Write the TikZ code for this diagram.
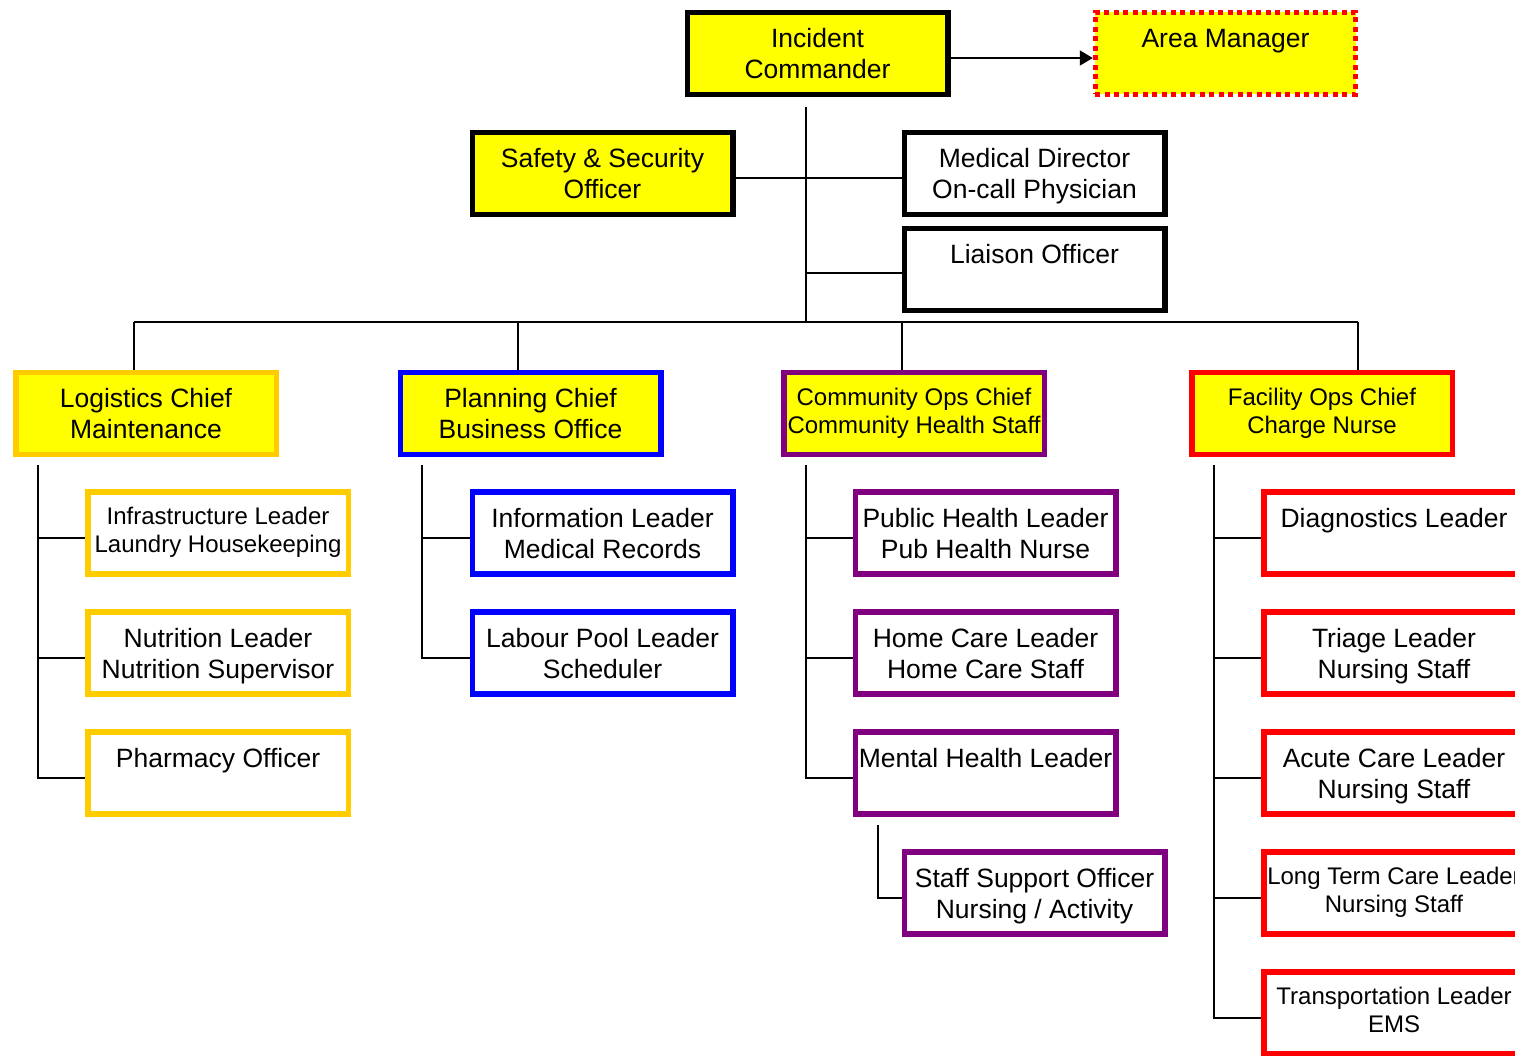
\documentclass[tikz,border=0pt]{standalone}
\usepackage{fontspec}
\setmainfont{Liberation Sans}
\usetikzlibrary{arrows.meta}
\definecolor{boxyellow}{HTML}{FFFF00}
\definecolor{goldbox}{HTML}{FFCC00}
\definecolor{bluebox}{HTML}{0000FF}
\definecolor{purplebox}{HTML}{800080}
\definecolor{redbox}{HTML}{FF0000}
\newcommand\bigf{\fontsize{26.5}{31}\selectfont}
\newcommand\smallf{\fontsize{24}{28}\selectfont}
\begin{document}
\begin{tikzpicture}[x=1pt,y=-1pt,
  box/.style={draw, line width=5.5pt, minimum width=260.5pt, minimum height=82pt,
    inner sep=0pt, align=center, font=\bigf, text depth=0pt},
  small/.style={font=\smallf, text depth=5.5pt},
  chief/.style={box, fill=boxyellow},
  conn/.style={draw=black, line width=2pt}]
\useasboundingbox (0,0) rectangle (1515,1056);
\clip (0,0) rectangle (1515,1056);
\fill[white] (0,0) rectangle (1515,1056);

% top level
\node[chief] (ic) at (817.5,53.5) {Incident\\Commander};
\node[chief, draw=redbox, line width=5pt, dash pattern=on 5pt off 4.5pt] (am) at (1225.5,53.5) {Area Manager\\\mbox{}};
\node[chief] (sso) at (602.5,173.5) {Safety \& Security\\Officer};
\node[box, fill=white] (md) at (1034.5,173.5) {Medical Director\\On-call Physician};
\node[box, fill=white] (lo) at (1034.5,269.5) {Liaison Officer\\\mbox{}};

% chiefs
\node[chief, draw=goldbox] (log) at (146,413.5) {Logistics Chief\\Maintenance};
\node[chief, draw=bluebox] (pla) at (530.5,413.5) {Planning Chief\\Business Office};
\node[chief, draw=purplebox, small] (com) at (914,413.5) {Community Ops Chief\\Community Health Staff};
\node[chief, draw=redbox, small] (fac) at (1322,413.5) {Facility Ops Chief\\Charge Nurse};

% logistics children
\node[box, draw=goldbox, small] (inf) at (218,533) {Infrastructure Leader\\Laundry Housekeeping};
\node[box, draw=goldbox] (nut) at (218,653) {Nutrition Leader\\Nutrition Supervisor};
\node[box, draw=goldbox] (pha) at (218,773) {Pharmacy Officer\\\mbox{}};

% planning children
\node[box, draw=bluebox] (inl) at (602.5,533) {Information Leader\\Medical Records};
\node[box, draw=bluebox] (lab) at (602.5,653) {Labour Pool Leader\\Scheduler};

% community children
\node[box, draw=purplebox] (pub) at (985.5,533) {Public Health Leader\\Pub Health Nurse};
\node[box, draw=purplebox] (hom) at (985.5,653) {Home Care Leader\\Home Care Staff};
\node[box, draw=purplebox] (men) at (985.5,773) {Mental Health Leader\\\mbox{}};
\node[box, draw=purplebox] (ssu) at (1034.5,893) {Staff Support Officer\\Nursing / Activity};

% facility children
\node[box, draw=redbox] (dia) at (1394,533) {Diagnostics Leader\\\mbox{}};
\node[box, draw=redbox] (tri) at (1394,653) {Triage Leader\\Nursing Staff};
\node[box, draw=redbox] (acu) at (1394,773) {Acute Care Leader\\Nursing Staff};
\node[box, draw=redbox, small] (ltc) at (1394,893) {Long Term Care Leader\\Nursing Staff};
\node[box, draw=redbox, small] (tra) at (1394,1013) {Transportation Leader\\EMS};

% coordinates
\coordinate (ictop) at (806,107);
\coordinate (busL) at (134,322);
\coordinate (busP) at (518,322);
\coordinate (busC) at (902,322);
\coordinate (busR) at (1358,322);
\coordinate (logtrunk) at (38,465);
\coordinate (platrunk) at (422,465);
\coordinate (comtrunk) at (806,465);
\coordinate (mentrunk) at (878,825);
\coordinate (factrunk) at (1214,465);

% top connectors
\draw[conn, -{Triangle[length=13pt,width=15pt]}] ([yshift=-4.5pt]ic.east) -- ([yshift=-4.5pt]am.west);
\draw[conn] (ictop) -- (ictop |- busL);
\draw[conn] ([yshift=-4.5pt]sso.east) -- ([yshift=-4.5pt]md.west);
\draw[conn] ([yshift=-3.5pt]lo.west) -| (ictop);
\draw[conn] (busL) -- (busR);
\draw[conn] (busL) -- (busL |- log.north);
\draw[conn] (busP) -- (busP |- pla.north);
\draw[conn] (busC) -- (busC |- com.north);
\draw[conn] (busR) -- (busR |- fac.north);

% logistics
\draw[conn] (logtrunk) |- ([yshift=-5pt]inf.west);
\draw[conn] (logtrunk) |- ([yshift=-5pt]nut.west);
\draw[conn] (logtrunk) |- ([yshift=-5pt]pha.west);
% planning
\draw[conn] (platrunk) |- ([yshift=-5pt]inl.west);
\draw[conn] (platrunk) |- ([yshift=-5pt]lab.west);
% community
\draw[conn] (comtrunk) |- ([yshift=-5pt]pub.west);
\draw[conn] (comtrunk) |- ([yshift=-5pt]hom.west);
\draw[conn] (comtrunk) |- ([yshift=-5pt]men.west);
\draw[conn] (mentrunk) |- ([yshift=-5pt]ssu.west);
% facility
\draw[conn] (factrunk) |- ([yshift=-5pt]dia.west);
\draw[conn] (factrunk) |- ([yshift=-5pt]tri.west);
\draw[conn] (factrunk) |- ([yshift=-5pt]acu.west);
\draw[conn] (factrunk) |- ([yshift=-5pt]ltc.west);
\draw[conn] (factrunk) |- ([yshift=-5pt]tra.west);
\end{tikzpicture}
\end{document}
